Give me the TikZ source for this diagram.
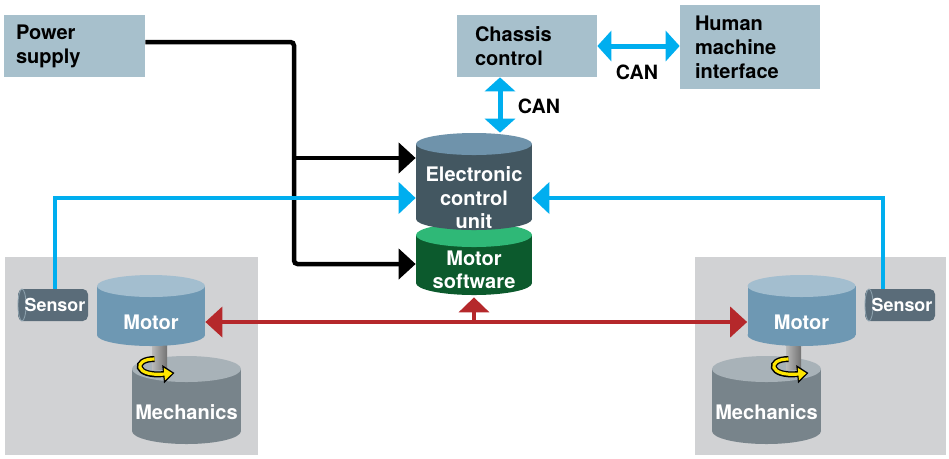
\documentclass[tikz,border=0pt]{standalone}
\usepackage{fontspec}
\setmainfont{TeX Gyre Heros}
\usepackage{xcolor}
\usepackage{tikz}
\usetikzlibrary{arrows.meta, positioning}
\definecolor{dBox}{RGB}{167,192,204}
\definecolor{dPanel}{RGB}{209,210,212}
\definecolor{dEcu}{RGB}{67,87,97}
\definecolor{dEcuTop}{RGB}{111,147,171}
\definecolor{dSw}{RGB}{12,90,45}
\definecolor{dSwTop}{RGB}{47,184,119}
\definecolor{dMotor}{RGB}{110,152,179}
\definecolor{dMotorTop}{RGB}{163,190,207}
\definecolor{dMech}{RGB}{120,132,139}
\definecolor{dMechTop}{RGB}{168,178,184}
\definecolor{dSensor}{RGB}{90,108,121}
\definecolor{dSensorEnd}{RGB}{140,160,172}
\definecolor{dCan}{RGB}{0,174,239}
\definecolor{dRed}{RGB}{181,40,43}
\definecolor{dYellow}{RGB}{255,230,0}

% cylinder: cx, y top, y bottom, rx, ry, body colour, top colour
\newcommand{\drawcyl}[7]{%
  \fill[#6] (#1,#3) ellipse[x radius=#4, y radius=#5];
  \fill[#6] ({#1-#4},#2) rectangle ({#1+#4},#3);
  \fill[#7] (#1,#2) ellipse[x radius=#4, y radius=#5];
}

\begin{document}
\begin{tikzpicture}[
  x=0.02cm, y=-0.02cm,
  box/.style={fill=dBox, minimum height=1.24cm, align=left,
              font=\fontsize{11.4}{13.6}\selectfont\bfseries},
  cyltxt/.style={text=white, align=center, inner sep=0pt,
                 font=\fontsize{11.4}{13.4}\selectfont\bfseries},
  sensor/.style={text=white, minimum width=1.4cm, minimum height=0.64cm,
                 inner sep=0pt, font=\fontsize{10.2}{12}\selectfont\bfseries},
  lbl/.style={font=\fontsize{11.2}{13}\selectfont\bfseries},
  pwr/.style={-{Triangle[length=0.34cm, width=0.6cm]}, line width=0.09cm,
              rounded corners=2pt},
  sig/.style={-{Triangle[length=0.34cm, width=0.62cm]}, line width=0.08cm,
              color=dCan},
  can/.style={{Triangle[length=0.28cm, width=0.6cm]}-{Triangle[length=0.28cm, width=0.6cm]},
              line width=0.1cm, color=dCan},
  bus/.style={line width=0.08cm, color=dRed},
]
  \useasboundingbox (0,0) rectangle (949,458);

  % grey motor panels
  \fill[dPanel] (5,257) rectangle (258,455);
  \fill[dPanel] (695,257) rectangle (946,455);

  % mechanics, shaft, rotation arrow and motor on both sides
  \foreach \mx/\sx/\kx in {151/159.5/186.5, 801.5/793.5/766.5} {
    \drawcyl{\kx}{369}{431}{54.5}{13}{dMech}{dMechTop}
    \shade[left color=gray!55, middle color=gray!10, right color=black!55]
      ({\sx-7.5},330) rectangle ({\sx+7.5},369);
    \draw[line width=3.4pt, -{Triangle[length=6.5pt, width=10pt]}]
      ({\sx-5},359) .. controls ({\sx-27},359) and ({\sx-25},377) .. ({\sx+15},373);
    \draw[dYellow, line width=1.8pt, shorten >=1.2pt, -{Triangle[length=4.6pt, width=6.8pt]}]
      ({\sx-5},359) .. controls ({\sx-27},359) and ({\sx-25},377) .. ({\sx+15},373);
    \drawcyl{\mx}{286}{335}{54}{11}{dMotor}{dMotorTop}
  }

  % sensors
  \foreach \lx in {18, 865} {
    \fill[dSensor, rounded corners=3pt] (\lx,289) rectangle ({\lx+70},321);
    \filldraw[fill=dSensor, draw=dSensorEnd, line width=0.5pt]
      ({\lx+4},305) ellipse[x radius=4, y radius=16];
  }

  % control unit stack
  \drawcyl{474}{235}{283}{58}{12}{dSw}{dSwTop}
  \drawcyl{474}{144}{219}{58}{11}{dEcu}{dEcuTop}

  \node[box, text width=2.34cm, inner xsep=0.24cm] (psu) at (74.5,46) {Power\\supply};
  \node[box, text width=2.08cm, inner xsep=0.36cm] (chassis) at (527,46) {Chassis\\control};
  \node[box, text width=2.2cm, inner xsep=0.3cm, minimum height=1.68cm] (hmi) at (750,47)
    {Human\\machine\\interface};

  \node[cyltxt, minimum width=2.32cm, minimum height=2.6cm] (ecu) at (474,198)
    {Electronic\\control\\unit};
  \node[cyltxt, minimum width=2.32cm, minimum height=1.08cm] (sw) at (474,270)
    {Motor\\software};

  \node[cyltxt, minimum width=2.16cm] (motL) at (151,322) {Motor};
  \node[cyltxt, minimum width=2.16cm] (motR) at (801.5,322) {Motor};
  \node[cyltxt] (mechL) at (186.5,412) {Mechanics};
  \node[cyltxt] (mechR) at (766.5,412) {Mechanics};
  \node[sensor] (senL) at (55,305) {Sensor};
  \node[sensor] (senR) at (902,305) {Sensor};

  % power
  \coordinate (tapE) at (294,158);
  \coordinate (tapS) at (294,264);
  \draw[pwr] ([yshift=0.08cm]psu.east) -| (tapS) -- (tapS -| sw.west);
  \draw[pwr] (tapE) -- (tapE -| ecu.west);

  % CAN
  \coordinate (canX) at (500,0);
  \draw[can] (chassis.east) -- (chassis.east -| hmi.west);
  \draw[can] (canX |- chassis.south) -- (canX |- ecu.north);
  \node[lbl] (canH) at (637,72) {CAN};
  \node[lbl] (canV) at (539,106) {CAN};

  % sensor signals
  \draw[sig] (senL.north) |- (ecu.west);
  \draw[sig] ([xshift=-0.38cm]senR.north) |- (ecu.east);

  % motor phases
  \draw[bus, {Triangle[length=0.34cm, width=0.6cm]}-{Triangle[length=0.34cm, width=0.6cm]}]
    (motL.east) -- (motR.west);
  \draw[bus, -{Triangle[length=0.3cm, width=0.6cm]}] (sw.south |- motL.east) -- (sw.south);
\end{tikzpicture}
\end{document}
